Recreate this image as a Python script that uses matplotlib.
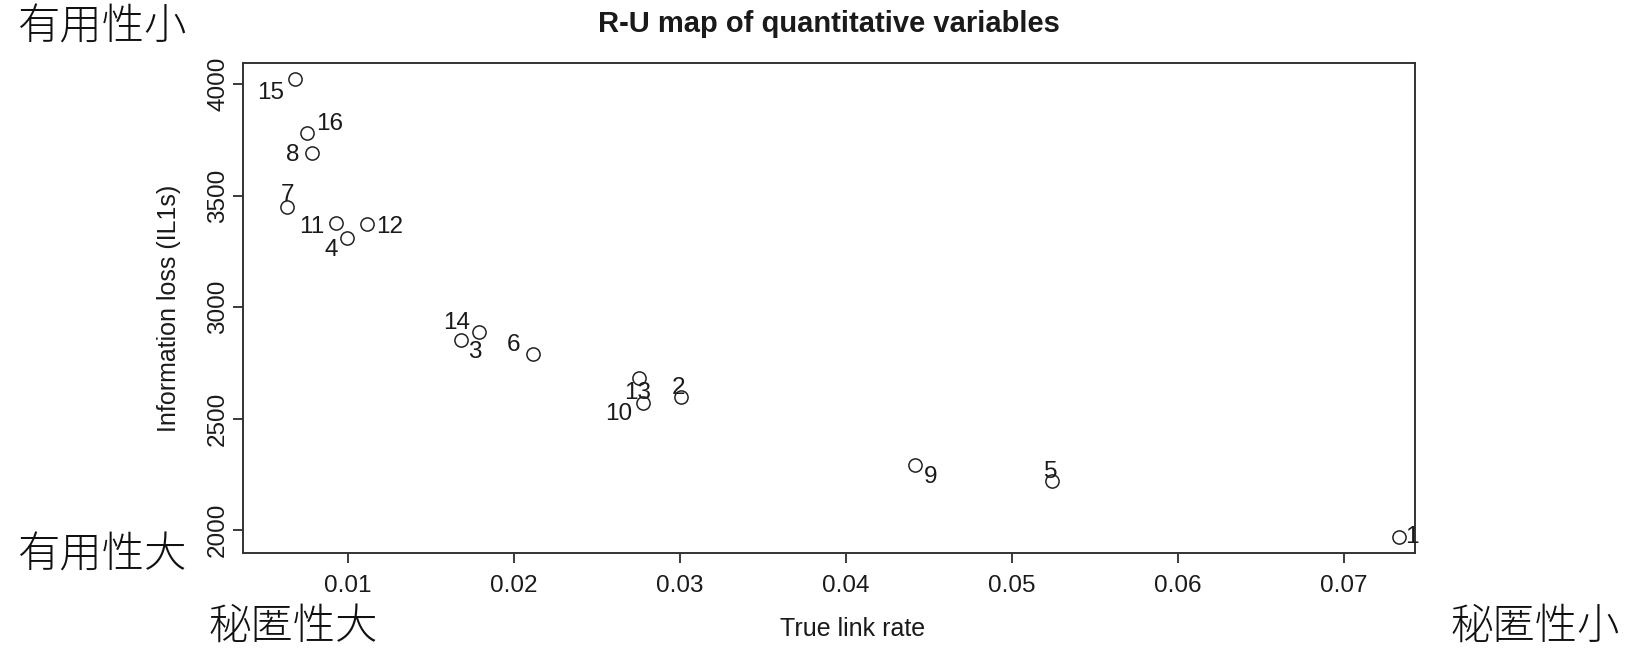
import matplotlib
matplotlib.use("Agg")
import matplotlib.pyplot as plt

plt.rcParams["font.family"] = ["Liberation Sans", "Noto Sans CJK JP"]

# ---------- data ----------
point_ids = ["1", "2", "3", "4", "5", "6", "7", "8",
             "9", "10", "11", "12", "13", "14", "15", "16"]
true_link_rate = [0.07331, 0.03006, 0.01681, 0.00994, 0.05241, 0.02114, 0.00633, 0.00783,
                  0.04416, 0.02777, 0.00928, 0.01114, 0.02753, 0.01789, 0.00681, 0.00753]
info_loss = [1970, 2599, 2853, 3311, 2221, 2790, 3450, 3692,
             2293, 2572, 3378, 3374, 2684, 2889, 4024, 3782]

x_ticks = [0.01, 0.02, 0.03, 0.04, 0.05, 0.06, 0.07]
y_ticks = [2000, 2500, 3000, 3500, 4000]

# label offsets in pixels (dx, dy with y pointing down, as measured on the picture)
label_offsets = {
    "1": (13, 0), "2": (-2, -9), "3": (14, 12), "4": (-16, 12),
    "5": (-1, -9), "6": (-19, -9), "7": (0, -12), "8": (-19, 2),
    "9": (16, 12), "10": (-24, 11), "11": (-24, 4), "12": (23, 3),
    "13": (-1, 15), "14": (-22, -9), "15": (-24, 14), "16": (23, -9),
}

ink = "#1a1a1a"

W, H = 1629, 655
fig = plt.figure(figsize=(W / 100, H / 100), dpi=100)
ax = fig.add_axes([243 / W, 1 - 553 / H, (1415 - 243) / W, (553 - 63) / H])

ax.plot(true_link_rate, info_loss, linestyle="none", marker="o", markersize=9.5,
        markerfacecolor="white", markeredgecolor="#222222", markeredgewidth=1.1)

for pid, xv, yv in zip(point_ids, true_link_rate, info_loss):
    dx, dy = label_offsets[pid]
    ax.annotate(pid, (xv, yv), xytext=(dx, -dy), textcoords="offset pixels",
                ha="center", va="center", fontsize=17.5, color=ink)

ax.set_xlim(0.00367, 0.0743)
ax.set_ylim(1898, 4095)
ax.set_xticks(x_ticks)
ax.set_xticklabels([f"{t:g}" for t in x_ticks])
ax.set_yticks(y_ticks)
ax.set_yticklabels([str(t) for t in y_ticks], rotation=90, va="center")
ax.tick_params(direction="out", length=7, width=1.2, labelsize=17.5, colors=ink)
ax.tick_params(axis="x", pad=9)
ax.tick_params(axis="y", pad=3)

for s in ax.spines.values():
    s.set_linewidth(1.4)
    s.set_color("#333333")

ax.set_xlabel("True link rate", fontsize=18, color=ink)
ax.set_ylabel("Information loss (IL1s)", fontsize=18, color=ink)
ax.xaxis.set_label_coords(0.52, -(617 - 553) / (553 - 63))
ax.yaxis.set_label_coords(-(243 - 181) / (1415 - 243), 0.5)

fig.text(829 / W, 1 - 24 / H, "R-U map of quantitative variables",
         ha="center", va="center", fontsize=21, fontweight="bold", color=ink)

# corner annotations
cjk = dict(fontsize=30.5, fontweight="light", color="#111111",
           family=["Noto Sans CJK JP", "DejaVu Sans"], va="center", ha="center")
fig.text(103 / W, 1 - 28 / H, "有用性小", **cjk)
fig.text(103 / W, 1 - 556 / H, "有用性大", **cjk)
fig.text(293 / W, 1 - 627 / H, "秘匿性大", **cjk)
fig.text(1535 / W, 1 - 627 / H, "秘匿性小", **cjk)

fig.savefig("out.png", dpi=100, facecolor="white")
